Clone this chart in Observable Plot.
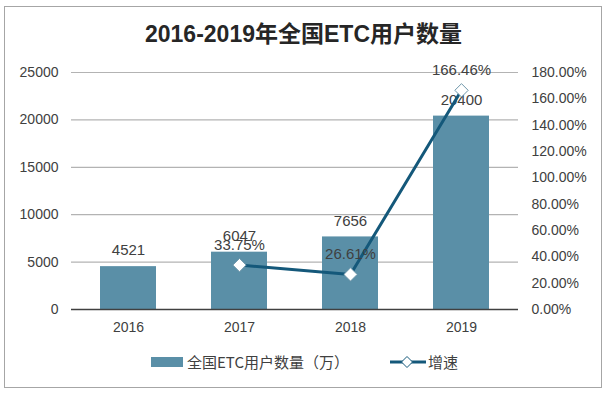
<!DOCTYPE html>
<html><head><meta charset="utf-8">
<script src="https://cdn.jsdelivr.net/npm/d3@7"></script>
<script src="https://cdn.jsdelivr.net/npm/@observablehq/plot@0.6"></script>
<style>
html,body{margin:0;padding:0;background:#fff;}
#wrap{position:relative;width:607px;height:394px;overflow:hidden;background:#fff;font-family:"Liberation Sans",Arial,"Noto Sans CJK SC",sans-serif;}
#frame{position:absolute;left:4px;top:6px;width:598px;height:382px;border:1.5px solid #a6a6a6;box-sizing:border-box;}
#title{position:absolute;left:0;top:21px;width:607px;text-align:center;font-size:23px;line-height:27px;font-weight:bold;color:#262626;font-family:"Liberation Sans",Arial,"Noto Sans CJK SC",sans-serif;}
.layer{position:absolute;left:0;top:50px;}
#legend{position:absolute;top:352px;left:0;width:607px;height:20px;font-family:"Noto Sans CJK SC","Noto Sans",sans-serif;font-size:15px;color:#404040;}
.sw{position:absolute;}
.lt{position:absolute;top:0;line-height:20px;white-space:nowrap;}
</style></head>
<body>
<div id="wrap">
  <div id="frame"></div>
  <div id="title">2016-2019年全国ETC用户数量</div>
  <div id="c1" class="layer"></div>
  <div id="c2" class="layer"></div>
  <div id="legend">
    <div class="sw" style="left:151px;top:5px;width:32px;height:10px;background:#5a8fa7;"></div>
    <div class="lt" style="left:187px;">全国ETC用户数量（万）</div>
    <svg class="sw" style="left:389px;top:0px;" width="38" height="20"><line x1="1" y1="10" x2="37" y2="10" stroke="#14587a" stroke-width="3"/><path d="M18,4.5L23.5,10L18,15.5L12.5,10Z" fill="#fff" stroke="#14587a" stroke-width="1"/></svg>
    <div class="lt" style="left:428px;">增速</div>
  </div>
</div>
<script>
const years = ["2016", "2017", "2018", "2019"];
const users = [4521, 6047, 7656, 20400];
const growth = [null, 33.75, 26.61, 166.46];
const leftTicks = [0, 5000, 10000, 15000, 20000, 25000];
const rightTicks = [0, 20, 40, 60, 80, 100, 120, 140, 160, 180];

const barData = years.map((y, i) => ({year: y, users: users[i]}));
const lineData = years.map((y, i) => ({year: y, growth: growth[i]})).filter(d => d.growth != null);

const common = {
  width: 607, height: 290,
  marginLeft: 71, marginRight: 89, marginTop: 22, marginBottom: 31,
  style: {fontSize: "14px", fontFamily: "'Liberation Sans', Arial, sans-serif", color: "#404040", background: "transparent", overflow: "visible"}
};

const p1 = Plot.plot({
  ...common,
  x: {domain: years, paddingInner: 0.5, paddingOuter: 0.25, label: null},
  y: {domain: [0, 25000], label: null},
  marks: [
    Plot.ruleY(leftTicks.filter(t => t > 0), {stroke: "#b3b3b3", strokeWidth: 1.2}),
    Plot.barY(barData, {x: "year", y: "users", fill: "#5a8fa7"}),
    Plot.ruleY([0], {stroke: "#404040", strokeWidth: 1.3}),
    Plot.text(barData, {x: "year", y: "users", text: d => String(d.users), dy: -16, fontSize: 15, fill: "#404040"}),
    Plot.axisY({ticks: leftTicks, tickSize: 0, tickPadding: 13, label: null, tickFormat: d => String(d)}),
    Plot.axisX({tickSize: 0, tickPadding: 13, label: null})
  ]
});
document.getElementById("c1").appendChild(p1);

const p2 = Plot.plot({
  ...common,
  x: {domain: years, paddingInner: 0.5, paddingOuter: 0.25, axis: null},
  y: {domain: [0, 180], label: null},
  marks: [
    Plot.line(lineData, {x: "year", y: "growth", stroke: "#14587a", strokeWidth: 3}),
    Plot.dot(lineData, {x: "year", y: "growth", symbol: "diamond2", r: 6, fill: "white", stroke: "#6f97aa", strokeWidth: 1}),
    Plot.text(lineData, {x: "year", y: "growth", text: d => d.growth.toFixed(2) + "%", dy: -20, fontSize: 15, fill: "#404040"}),
    Plot.axisY({anchor: "right", ticks: rightTicks, tickSize: 0, tickPadding: 13, label: null, tickFormat: d => d.toFixed(2) + "%"})
  ]
});
document.getElementById("c2").appendChild(p2);
</script>
</body></html>
